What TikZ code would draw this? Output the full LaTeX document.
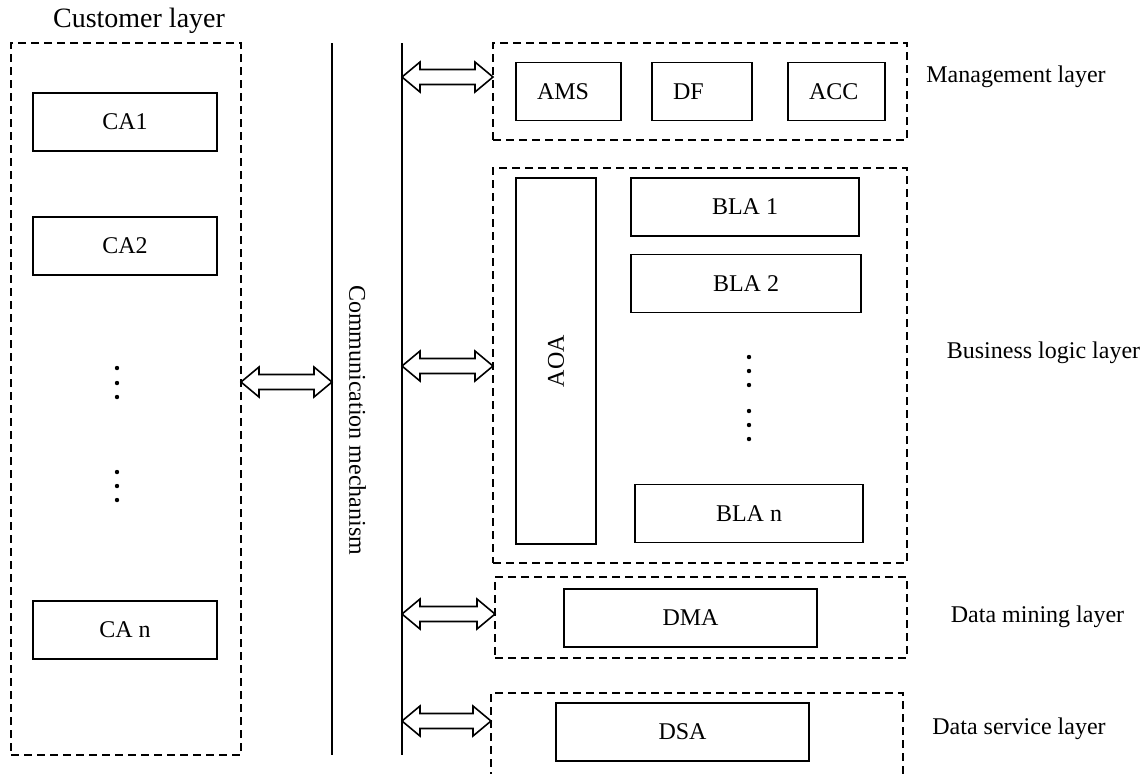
\documentclass[tikz,border=0pt]{standalone}
\usepackage{fontspec}
\setmainfont{Liberation Serif}
\usetikzlibrary{calc}

\newcommand{\dblarrow}[2]{%
	\draw[bigarrow] let \p1 = (#1), \p2 = (#2) in
		(\x1, \y1) -- (\x1 + 9pt, \y1 + 7.5pt) -- (\x1 + 9pt, \y1 + 3.75pt)
		-- (\x2 - 9pt, \y1 + 3.75pt) -- (\x2 - 9pt, \y1 + 7.5pt) -- (\x2, \y1)
		-- (\x2 - 9pt, \y1 - 7.5pt) -- (\x2 - 9pt, \y1 - 3.75pt)
		-- (\x1 + 9pt, \y1 - 3.75pt) -- (\x1 + 9pt, \y1 - 7.5pt) -- cycle;%
}

\begin{document}
\begin{tikzpicture}[x = 1pt, y = -1pt,
	every node/.style = {font = \fontsize{12}{14}\selectfont},
	layerbox/.style = {draw, dashed, dash pattern = on 4pt off 2.5pt, line width = 0.8pt, outer sep = 0pt, inner sep = 0pt},
	agentbox/.style = {draw, line width = 0.8pt, outer sep = 0pt, inner sep = 0pt, minimum height = 29pt},
	mgmtbox/.style = {agentbox, align = left, inner xsep = 10.5pt},
	bigarrow/.style = {line width = 0.8pt, line join = miter},
	buslinestyle/.style = {line width = 0.8pt}
]

\useasboundingbox (0, 0) rectangle (573, 386.5);

\node[anchor = base, font = \fontsize{14}{16}\selectfont] (custlabel) at (69.5, 13.5) {Customer layer};

\node[layerbox, minimum width = 115pt, minimum height = 356pt] (cust) at (63, 199.5) {};

\node[agentbox, minimum width = 92pt] (ca1) at (62.5, 61) {CA1};
\node[agentbox, minimum width = 92pt] (ca2) at (62.5, 123) {CA2};
\node[agentbox, minimum width = 92pt] (can) at (62.5, 315) {CA n};

\foreach \y in {184, 191.5, 198.5, 236, 243, 250}
	\fill (58.5, \y) circle (1.1pt);

\coordinate (busLtop) at (166, 21.5);
\coordinate (busLbot) at (166, 377.5);
\coordinate (busRtop) at (201, 21.5);
\coordinate (busRbot) at (201, 377.5);

\draw[buslinestyle] (busLtop) -- (busLbot);
\draw[buslinestyle] (busRtop) -- (busRbot);

\node[rotate = -90] (commlabel) at (178.75, 210) {Communication mechanism};

\node[layerbox, minimum width = 207pt, minimum height = 48.5pt] (mgmt) at (350, 45.75) {};
\node[layerbox, minimum width = 207pt, minimum height = 197.5pt] (biz) at (350, 182.75) {};
\node[layerbox, minimum width = 206pt, minimum height = 40.5pt] (dm) at (350.5, 308.75) {};
\node[layerbox, minimum width = 206pt, minimum height = 42.5pt] (ds) at (348.5, 367.75) {};

\node[mgmtbox, text width = 31.5pt] (ams) at (284.25, 45.75) {AMS};
\node[mgmtbox, text width = 29pt] (df) at (351, 45.75) {DF};
\node[mgmtbox, text width = 27.5pt] (acc) at (418.25, 45.75) {ACC};

\node[agentbox, rotate = 90, minimum width = 183pt, minimum height = 40pt] (aoa) at (278, 180.5) {AOA};

\node[agentbox, minimum width = 114pt] (bla1) at (372.5, 103.5) {BLA 1};
\node[agentbox, minimum width = 115pt] (bla2) at (373, 141.75) {BLA 2};
\node[agentbox, minimum width = 114pt] (blan) at (374.5, 256.75) {BLA n};

\foreach \y in {178.5, 185.5, 192.5, 205.5, 212.5, 219.5}
	\fill (374.5, \y) circle (1.1pt);

\node[agentbox, minimum width = 126.5pt] (dma) at (345.25, 309) {DMA};
\node[agentbox, minimum width = 126.5pt] (dsa) at (341.25, 366) {DSA};

\node[anchor = base] (mgmtlabel) at (508, 41) {Management layer};
\node[anchor = base] (bizlabel) at (521.75, 179) {Business logic layer};
\node[anchor = base] (dmlabel) at (518.75, 311) {Data mining layer};
\node[anchor = base] (dslabel) at (509.5, 367) {Data service layer};

\coordinate (busC) at (166, 191);
\coordinate (busM) at (201, 38.5);
\coordinate (busB) at (201, 183);
\coordinate (busD) at (201, 307);
\coordinate (busS) at (201, 360.5);

\dblarrow{cust.east |- busC}{busC}
\dblarrow{busM}{mgmt.west |- busM}
\dblarrow{busB}{biz.west |- busB}
\dblarrow{busD}{dm.west |- busD}
\dblarrow{busS}{ds.west |- busS}

\end{tikzpicture}
\end{document}
